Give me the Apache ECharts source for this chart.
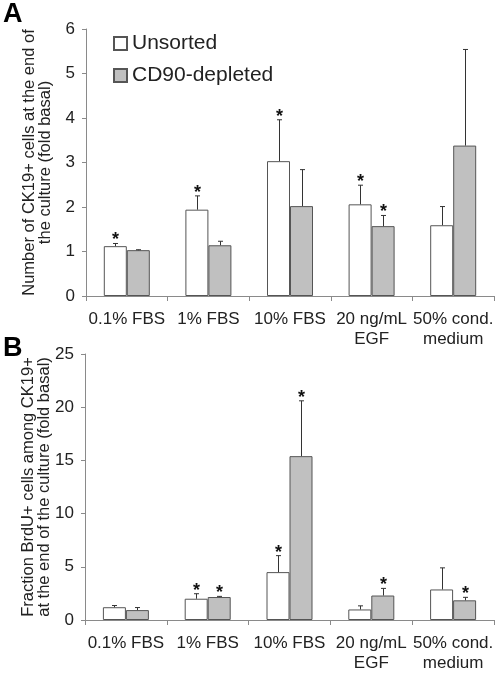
<!DOCTYPE html>
<html>
<head>
<meta charset="utf-8">
<script src="https://cdn.jsdelivr.net/npm/echarts@6/dist/echarts.min.js"></script>
<style>
html,body{margin:0;padding:0;background:#fff;}
#chart{width:498px;height:673px;}
</style>
</head>
<body>
<div id="chart"></div>
<script>
var categories = ['0.1% FBS', '1% FBS', '10% FBS', '20 ng/mL\nEGF', '50% cond.\nmedium'];
var seriesNames = ['Unsorted', 'CD90-depleted'];

// Panel A: Number of CK19+ cells (fold basal)
var aUnsorted = [1.12, 1.94, 3.03, 2.06, 1.59];
var aUnsortedErr = [0.06, 0.31, 0.93, 0.43, 0.42];
var aUnsortedSig = [1, 1, 1, 1, 0];
var aCd90 = [1.03, 1.14, 2.02, 1.57, 3.38];
var aCd90Err = [0.01, 0.09, 0.82, 0.24, 2.16];
var aCd90Sig = [0, 0, 0, 1, 0];
var aTicks = [0, 1, 2, 3, 4, 5, 6];

// Panel B: Fraction BrdU+ cells among CK19+ (fold basal)
var bUnsorted = [1.2, 2.0, 4.5, 0.99, 2.87];
var bUnsortedErr = [0.16, 0.47, 1.55, 0.34, 2.03];
var bUnsortedSig = [0, 1, 1, 0, 0];
var bCd90 = [0.93, 2.16, 15.4, 2.3, 1.85];
var bCd90Err = [0.24, 0.06, 5.2, 0.67, 0.28];
var bCd90Sig = [0, 1, 1, 1, 1];
var bTicks = [0, 5, 10, 15, 20, 25];

var FONT = '"Liberation Sans", Arial, sans-serif';
var BAR_W = 23;
var AXIS_COLOR = '#8a8a8a';
var BORDER = '#555';

function errData(means, errs, sigs, side) {
  return means.map(function (m, i) { return [i, m, errs[i], sigs[i], side]; });
}

function renderErr(params, api) {
  var idx = api.value(0), mean = api.value(1), err = api.value(2), sig = api.value(3), side = api.value(4);
  var base = api.coord([idx, mean]);
  var capP = api.coord([idx, mean + err]);
  var x = Math.round(base[0] + side * BAR_W / 2) + 0.5;
  var children = [
    {type: 'line', shape: {x1: x, y1: base[1], x2: x, y2: capP[1]}, style: {stroke: '#333', lineWidth: 1}},
    {type: 'line', shape: {x1: x - 2.5, y1: capP[1], x2: x + 2.5, y2: capP[1]}, style: {stroke: '#333', lineWidth: 1}}
  ];
  if (sig) {
    children.push({type: 'text', x: x, y: capP[1] - 3,
      style: {text: '*', fontFamily: FONT, fontSize: 18, fontWeight: 'bold', fill: '#111', align: 'center', verticalAlign: 'middle'}});
  }
  return {type: 'group', children: children};
}

function xAxisDef(gridIndex) {
  return {
    type: 'category', gridIndex: gridIndex, data: categories,
    axisLine: {lineStyle: {color: AXIS_COLOR, width: 1}},
    axisTick: {show: true, length: 5, lineStyle: {color: AXIS_COLOR}},
    axisLabel: {fontFamily: FONT, fontSize: 17, color: '#222', margin: 13, lineHeight: 20, interval: 0}
  };
}

function yAxisDef(gridIndex, ticks, name) {
  var mn = ticks[0], mx = ticks[ticks.length - 1], iv = ticks[1] - ticks[0];
  return {
    type: 'value', gridIndex: gridIndex, min: mn, max: mx, interval: iv,
    name: name, nameLocation: 'middle', nameRotate: 90, nameGap: 32, nameMoveOverlap: false,
    nameTextStyle: {fontFamily: FONT, fontSize: 16.5, color: '#222', lineHeight: 16.5},
    axisLine: {show: true, lineStyle: {color: AXIS_COLOR, width: 1}},
    axisTick: {show: true, length: 4, lineStyle: {color: AXIS_COLOR}},
    splitLine: {show: false},
    axisLabel: {fontFamily: FONT, fontSize: 17, color: '#222', margin: 11}
  };
}

function barSeries(name, xi, data, fill) {
  return {
    name: name, type: 'bar', xAxisIndex: xi, yAxisIndex: xi, data: data,
    barWidth: BAR_W, barGap: '0%',
    itemStyle: {color: fill, borderColor: BORDER, borderWidth: 1},
    emphasis: {disabled: true}, animation: false
  };
}

function errSeries(xi, data) {
  return {
    type: 'custom', xAxisIndex: xi, yAxisIndex: xi, data: data, renderItem: renderErr,
    z: 5, animation: false, silent: true
  };
}

var chart = echarts.init(document.getElementById('chart'), null, {renderer: 'canvas'});
chart.setOption({
  animation: false,
  backgroundColor: '#fff',
  grid: [
    {left: 86, right: 4, top: 29, height: 267},
    {left: 85, right: 4, top: 354, height: 270}
  ],
  xAxis: [xAxisDef(0), xAxisDef(1)],
  yAxis: [
    yAxisDef(0, aTicks, 'Number of CK19+ cells at the end of\nthe culture (fold basal)'),
    yAxisDef(1, bTicks, 'Fraction BrdU+ cells among CK19+\nat the end of the culture (fold basal)')
  ],
  legend: {
    data: seriesNames, orient: 'vertical', left: 113, top: 33, padding: 0,
    itemWidth: 13, itemHeight: 13, itemGap: 11, icon: 'rect',
    textStyle: {fontFamily: FONT, fontSize: 21, color: '#222'}
  },
  series: [
    barSeries(seriesNames[0], 0, aUnsorted, '#ffffff'),
    barSeries(seriesNames[1], 0, aCd90, '#c0c0c0'),
    errSeries(0, errData(aUnsorted, aUnsortedErr, aUnsortedSig, -1)),
    errSeries(0, errData(aCd90, aCd90Err, aCd90Sig, 1)),
    barSeries(seriesNames[0], 1, bUnsorted, '#ffffff'),
    barSeries(seriesNames[1], 1, bCd90, '#c0c0c0'),
    errSeries(1, errData(bUnsorted, bUnsortedErr, bUnsortedSig, -1)),
    errSeries(1, errData(bCd90, bCd90Err, bCd90Sig, 1))
  ],
  graphic: [
    {type: 'text', left: 3, top: 1, style: {text: 'A', fontFamily: FONT, fontSize: 27, fontWeight: 'bold', fill: '#000'}},
    {type: 'text', left: 3, top: 335, style: {text: 'B', fontFamily: FONT, fontSize: 27, fontWeight: 'bold', fill: '#000'}}
  ]
});
</script>
</body>
</html>
